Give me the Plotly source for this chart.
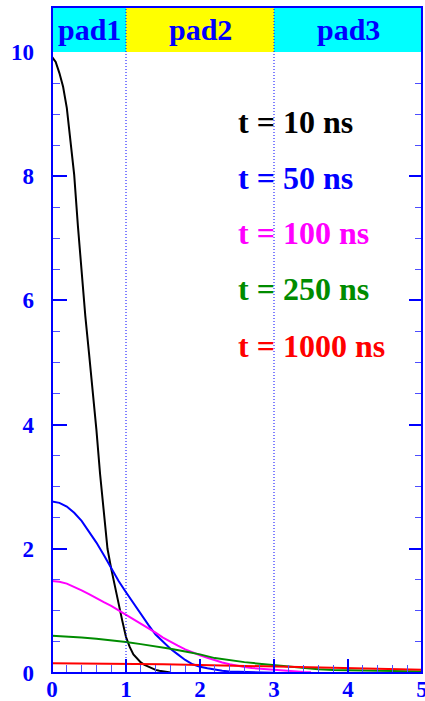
import plotly.graph_objects as go

# ---- data ----
x_10 = [0.00, 0.05, 0.10, 0.15, 0.20, 0.25, 0.30, 0.35, 0.40, 0.45, 0.50, 0.55,
        0.60, 0.65, 0.70, 0.75, 0.80, 0.85, 0.90, 0.95, 1.00, 1.05, 1.10, 1.15,
        1.20, 1.25, 1.30, 1.35, 1.40, 1.45, 1.50, 1.55, 1.60]
y_10 = [9.92, 9.84, 9.66, 9.44, 9.10, 8.58, 8.02, 7.20, 6.45, 5.75, 5.15, 4.55,
        3.92, 3.20, 2.60, 2.00, 1.68, 1.38, 1.08, 0.84, 0.58, 0.42, 0.30, 0.23,
        0.17, 0.13, 0.10, 0.07, 0.05, 0.035, 0.025, 0.015, 0.01]

x_50 = [0.0, 0.1, 0.2, 0.3, 0.4, 0.5, 0.6, 0.7, 0.8, 0.9, 1.0, 1.1, 1.2, 1.3,
        1.4, 1.5, 1.6, 1.7, 1.8, 1.9, 2.0, 2.1, 2.2, 2.3, 2.4, 2.5, 2.6, 2.7,
        2.8, 2.9, 3.0]
y_50 = [2.76, 2.74, 2.68, 2.58, 2.45, 2.28, 2.10, 1.90, 1.68, 1.48, 1.30, 1.12,
        0.95, 0.78, 0.62, 0.50, 0.39, 0.30, 0.21, 0.14, 0.10, 0.075, 0.05,
        0.035, 0.025, 0.02, 0.015, 0.01, 0.01, 0.007, 0.005]

x_100 = [0.0, 0.1, 0.2, 0.3, 0.4, 0.5, 0.6, 0.7, 0.8, 0.9, 1.0, 1.1, 1.2, 1.3,
         1.4, 1.5, 1.6, 1.7, 1.8, 1.9, 2.0, 2.1, 2.2, 2.3, 2.4, 2.5, 2.6, 2.7,
         2.8, 2.9, 3.0, 3.1, 3.2, 3.3, 3.4, 3.5]
y_100 = [1.48, 1.47, 1.44, 1.39, 1.33, 1.27, 1.20, 1.14, 1.08, 1.01, 0.94, 0.87,
         0.79, 0.72, 0.65, 0.57, 0.50, 0.44, 0.38, 0.33, 0.285, 0.245, 0.205,
         0.17, 0.14, 0.115, 0.095, 0.08, 0.07, 0.055, 0.045, 0.035, 0.028,
         0.022, 0.017, 0.013]

x_250 = [0.0, 0.2, 0.4, 0.6, 0.8, 1.0, 1.2, 1.4, 1.6, 1.8, 2.0, 2.2, 2.4, 2.6,
         2.8, 3.0, 3.2, 3.4, 3.6, 3.8, 4.0, 4.2, 4.4, 4.6, 4.8, 5.0]
y_250 = [0.60, 0.59, 0.57, 0.55, 0.53, 0.50, 0.465, 0.43, 0.39, 0.345, 0.30,
         0.24, 0.205, 0.175, 0.15, 0.125, 0.10, 0.08, 0.06, 0.05, 0.045, 0.04,
         0.038, 0.035, 0.03, 0.025]

x_1000 = [0.0, 0.5, 1.0, 1.5, 2.0, 2.5, 3.0, 3.5, 4.0, 4.5, 5.0]
y_1000 = [0.155, 0.153, 0.148, 0.14, 0.13, 0.118, 0.105, 0.092, 0.078, 0.065,
          0.052]

labels = ["t = 10 ns", "t = 50 ns", "t = 100 ns", "t = 250 ns", "t = 1000 ns"]
label_y = [8.87, 7.97, 7.08, 6.19, 5.27]
pad_names = ["pad1", "pad2", "pad3"]
pad_edges = [0, 1, 3, 5]
pad_colors = ["#00ffff", "#ffff00", "#00ffff"]

colors = ["#000000", "#0000ff", "#ff00ff", "#008c00", "#ff0000"]
series = [(x_10, y_10), (x_50, y_50), (x_100, y_100), (x_250, y_250),
          (x_1000, y_1000)]

BLUE = "#0000ff"
FONT = "Liberation Serif"

fig = go.Figure()
for (xs, ys), c in zip(series, colors):
    fig.add_trace(go.Scatter(x=xs, y=ys, mode="lines",
                             line=dict(color=c, width=2),
                             showlegend=False, hoverinfo="skip"))
# dummy trace on the mirrored right axis
fig.add_trace(go.Scatter(x=x_1000, y=y_1000, yaxis="y2", mode="lines",
                         line=dict(width=0), opacity=0, showlegend=False,
                         hoverinfo="skip"))

band_top = 1 + 45 / 621

shapes = []
for i in range(3):
    shapes.append(dict(type="rect", xref="x", yref="paper",
                       x0=pad_edges[i], x1=pad_edges[i + 1],
                       y0=1, y1=band_top, fillcolor=pad_colors[i],
                       line=dict(width=0), layer="below"))
for xv in pad_edges[1:3]:
    shapes.append(dict(type="line", xref="x", yref="paper", x0=xv, x1=xv,
                       y0=0, y1=band_top,
                       line=dict(color=BLUE, width=1, dash="1px,2px"),
                       layer="above"))
shapes.append(dict(type="rect", xref="paper", yref="paper", x0=0, x1=1,
                   y0=0, y1=band_top, line=dict(color=BLUE, width=2),
                   layer="above"))
fig.update_layout(shapes=shapes)

annotations = []
for i, name in enumerate(pad_names):
    annotations.append(dict(text=name, xref="x", yref="paper",
                            x=(pad_edges[i] + pad_edges[i + 1]) / 2,
                            y=1 + 23 / 621, yanchor="middle", xanchor="center",
                            showarrow=False,
                            font=dict(family=FONT, size=30, color=BLUE,
                                      weight="bold")))
for txt, yv, c in zip(labels, label_y, colors):
    annotations.append(dict(text=txt, x=2.49, y=yv, xref="x", yref="y",
                            xanchor="left", yanchor="middle", showarrow=False,
                            font=dict(family=FONT, size=32, color=c,
                                      weight="bold")))
fig.update_layout(annotations=annotations)

tickfont = dict(family=FONT, size=23, color=BLUE, weight="bold")
fig.update_layout(
    width=425, height=701,
    margin=dict(l=52, r=3, t=52, b=28, autoexpand=False),
    paper_bgcolor="white", plot_bgcolor="white",
    xaxis=dict(range=[0, 5], dtick=1, tick0=0, showgrid=False, zeroline=False,
               showline=False, ticks="inside", ticklen=14, tickwidth=1.5,
               tickcolor=BLUE, tickfont=tickfont, ticklabelstandoff=0,
               ticklabeloverflow="allow", automargin=False,
               minor=dict(ticks="inside", dtick=0.2, ticklen=8,
                          tickwidth=1.2, tickcolor="#4d4dff")),
    yaxis=dict(range=[0, 10], dtick=2, tick0=0, showgrid=False, zeroline=False,
               showline=False, ticks="inside", ticklen=15, tickwidth=1.5,
               tickcolor=BLUE, tickfont=tickfont, ticklabelstandoff=17,
               ticklabeloverflow="allow", automargin=False,
               minor=dict(ticks="inside", dtick=0.5, ticklen=8,
                          tickwidth=1.2, tickcolor="#4d4dff")),
    yaxis2=dict(range=[0, 10], overlaying="y", side="right", dtick=2,
                tick0=0, showgrid=False, zeroline=False, showline=False,
                ticks="inside", ticklen=13, tickwidth=1.5, tickcolor=BLUE,
                showticklabels=False, automargin=False,
                minor=dict(ticks="inside", dtick=0.5, ticklen=7,
                           tickwidth=1.2, tickcolor="#4d4dff")),
)

fig.write_html("out.html")
